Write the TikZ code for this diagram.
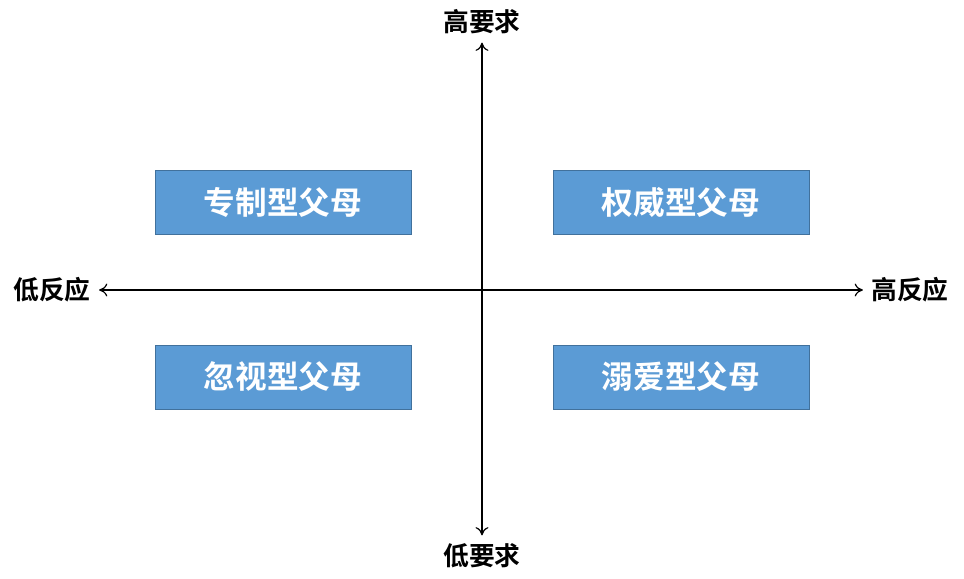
\documentclass[tikz,border=0pt]{standalone}
\usepackage{fontspec}
\newfontfamily\cjk{Noto Sans CJK SC}[BoldFont={Noto Sans CJK SC Bold}]
\usetikzlibrary{arrows.meta, positioning}
\definecolor{boxblue}{HTML}{5B9BD5}
\definecolor{boxline}{HTML}{41719C}

\begin{document}
\begin{tikzpicture}[
		>={To[length=7pt, width=11pt]},
		parentbox/.style = {draw = boxline, line width = 0.6pt, fill = boxblue, minimum width = 7.68cm, minimum height = 1.92cm, inner sep = 0pt, text = white, font = \cjk\bfseries\fontsize{27}{30}\selectfont},
		axislabel/.style = {inner sep = 7pt, font = \cjk\bfseries\fontsize{22}{26}\selectfont}
	]
		\useasboundingbox (-14.46cm, -8.64cm) rectangle (14.46cm, 8.7cm);

		\draw (0cm, 8.04cm) node[axislabel] (hidemand){高要求}
		(0cm, -7.98cm) node[axislabel] (lodemand) {低要求}
		(-12.9cm, 0cm) node[axislabel] (loresp) {低反应}
		(12.84cm, 0cm) node[axislabel] (hiresp) {高反应}
		(-5.97cm, 2.64cm) node[parentbox] (autocratic) {专制型父母}
		(5.97cm, 2.64cm) node[parentbox] (authoritative) {权威型父母}
		(-5.97cm, -2.61cm) node[parentbox] (neglectful) {忽视型父母}
		(5.97cm, -2.61cm) node[parentbox] (indulgent) {溺爱型父母};

		\draw[<->, line width = 1pt] (loresp) -- (hiresp);
		\draw[<->, line width = 1pt] (lodemand) -- (hidemand);
	\end{tikzpicture}
\end{document}
